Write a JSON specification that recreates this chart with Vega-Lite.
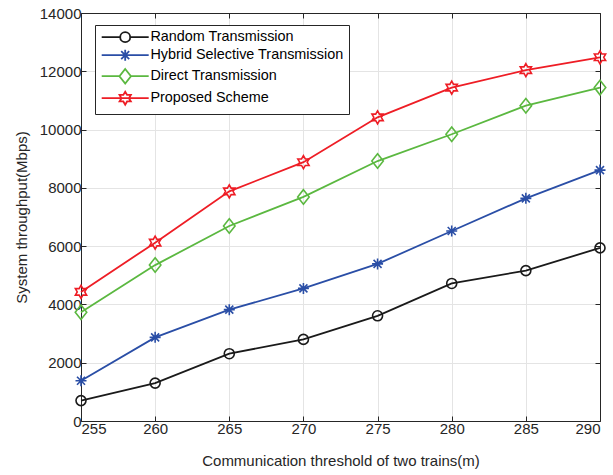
{
  "$schema": "https://vega.github.io/schema/vega-lite/v6.json",
  "width": 519,
  "height": 408,
  "autosize": {"type": "none"},
  "padding": {"left": 81, "top": 13, "right": 13, "bottom": 54},
  "background": "white",
  "data": {
    "values": [
      {"threshold": 255, "scheme": "Random Transmission", "throughput": 700},
      {"threshold": 260, "scheme": "Random Transmission", "throughput": 1300},
      {"threshold": 265, "scheme": "Random Transmission", "throughput": 2310},
      {"threshold": 270, "scheme": "Random Transmission", "throughput": 2800},
      {"threshold": 275, "scheme": "Random Transmission", "throughput": 3610},
      {"threshold": 280, "scheme": "Random Transmission", "throughput": 4720},
      {"threshold": 285, "scheme": "Random Transmission", "throughput": 5160},
      {"threshold": 290, "scheme": "Random Transmission", "throughput": 5940},
      {"threshold": 255, "scheme": "Hybrid Selective Transmission", "throughput": 1380},
      {"threshold": 260, "scheme": "Hybrid Selective Transmission", "throughput": 2870},
      {"threshold": 265, "scheme": "Hybrid Selective Transmission", "throughput": 3820},
      {"threshold": 270, "scheme": "Hybrid Selective Transmission", "throughput": 4550},
      {"threshold": 275, "scheme": "Hybrid Selective Transmission", "throughput": 5390},
      {"threshold": 280, "scheme": "Hybrid Selective Transmission", "throughput": 6520},
      {"threshold": 285, "scheme": "Hybrid Selective Transmission", "throughput": 7640},
      {"threshold": 290, "scheme": "Hybrid Selective Transmission", "throughput": 8610},
      {"threshold": 255, "scheme": "Direct Transmission", "throughput": 3730},
      {"threshold": 260, "scheme": "Direct Transmission", "throughput": 5350},
      {"threshold": 265, "scheme": "Direct Transmission", "throughput": 6690},
      {"threshold": 270, "scheme": "Direct Transmission", "throughput": 7690},
      {"threshold": 275, "scheme": "Direct Transmission", "throughput": 8920},
      {"threshold": 280, "scheme": "Direct Transmission", "throughput": 9840},
      {"threshold": 285, "scheme": "Direct Transmission", "throughput": 10820},
      {"threshold": 290, "scheme": "Direct Transmission", "throughput": 11440},
      {"threshold": 255, "scheme": "Proposed Scheme", "throughput": 4430},
      {"threshold": 260, "scheme": "Proposed Scheme", "throughput": 6120},
      {"threshold": 265, "scheme": "Proposed Scheme", "throughput": 7880},
      {"threshold": 270, "scheme": "Proposed Scheme", "throughput": 8880},
      {"threshold": 275, "scheme": "Proposed Scheme", "throughput": 10420},
      {"threshold": 280, "scheme": "Proposed Scheme", "throughput": 11440},
      {"threshold": 285, "scheme": "Proposed Scheme", "throughput": 12040},
      {"threshold": 290, "scheme": "Proposed Scheme", "throughput": 12480}
    ]
  },
  "layer": [
    {
      "mark": {"type": "line", "strokeWidth": 1.8},
      "encoding": {
        "x": {
          "field": "threshold", "type": "quantitative",
          "scale": {"domain": [255, 290], "nice": false, "zero": false},
          "axis": {"orient": "bottom", "values": [255, 260, 265, 270, 275, 280, 285, 290], "title": "Communication threshold of two trains(m)", "labelPadding": 5, "titlePadding": 17}
        },
        "y": {
          "field": "throughput", "type": "quantitative",
          "scale": {"domain": [0, 14000], "nice": false},
          "axis": {"orient": "left", "values": [0, 2000, 4000, 6000, 8000, 10000, 12000, 14000], "format": "d", "title": "System throughput(Mbps)", "labelPadding": 5, "titlePadding": 10}
        },
        "color": {
          "field": "scheme", "type": "nominal",
          "scale": {
            "domain": ["Random Transmission", "Hybrid Selective Transmission", "Direct Transmission", "Proposed Scheme"],
            "range": ["#1a1a1a", "#2a4ea6", "#5bb840", "#ee1d25"]
          },
          "legend": {"title": null, "orient": "none", "legendX": 14, "legendY": 12, "symbolOffset": 18, "labelOffset": 18, "labelLimit": 0, "symbolSize": 100, "symbolStrokeWidth": 1.8, "labelExpr": "datum.label + '      '"}
        }
      }
    },
    {
      "transform": [{"filter": "datum.scheme === 'Random Transmission'"}],
      "mark": {"type": "point", "filled": false, "size": 100, "strokeWidth": 1.6, "opacity": 1, "shape": "M1,0A1,1 0 1,1 -1,0A1,1 0 1,1 1,0Z"},
      "encoding": {
        "x": {
          "field": "threshold", "type": "quantitative",
          "axis": {"orient": "top", "values": [255, 260, 265, 270, 275, 280, 285, 290], "labels": false, "title": null, "grid": false}
        },
        "y": {
          "field": "throughput", "type": "quantitative",
          "axis": {"orient": "right", "values": [0, 2000, 4000, 6000, 8000, 10000, 12000, 14000], "labels": false, "title": null, "grid": false}
        },
        "color": {
          "field": "scheme", "type": "nominal",
          "legend": {"title": null, "orient": "none", "legendX": 14, "legendY": 12, "symbolOffset": 18, "labelOffset": 18, "labelLimit": 0, "symbolSize": 100, "symbolStrokeWidth": 1.8, "labelExpr": "datum.label + '      '"}
        }
      }
    },
    {
      "transform": [{"filter": "datum.scheme === 'Hybrid Selective Transmission'"}],
      "mark": {"type": "point", "filled": false, "size": 100, "strokeWidth": 1.6, "opacity": 1, "shape": "M-1.1,0H1.1M0,-1.1V1.1M-0.8,-0.8L0.8,0.8M-0.8,0.8L0.8,-0.8"},
      "encoding": {
        "x": {"field": "threshold", "type": "quantitative", "axis": null},
        "y": {"field": "throughput", "type": "quantitative", "axis": null},
        "color": {
          "field": "scheme", "type": "nominal",
          "legend": {"title": null, "orient": "none", "legendX": 14, "legendY": 12, "symbolOffset": 18, "labelOffset": 18, "labelLimit": 0, "symbolSize": 100, "symbolStrokeWidth": 1.8, "labelExpr": "datum.label + '      '"}
        }
      }
    },
    {
      "transform": [{"filter": "datum.scheme === 'Direct Transmission'"}],
      "mark": {"type": "point", "filled": false, "size": 100, "strokeWidth": 1.6, "opacity": 1, "shape": "M0,-1.45L1.15,0L0,1.45L-1.15,0Z"},
      "encoding": {
        "x": {"field": "threshold", "type": "quantitative", "axis": null},
        "y": {"field": "throughput", "type": "quantitative", "axis": null},
        "color": {
          "field": "scheme", "type": "nominal",
          "legend": {"title": null, "orient": "none", "legendX": 14, "legendY": 12, "symbolOffset": 18, "labelOffset": 18, "labelLimit": 0, "symbolSize": 100, "symbolStrokeWidth": 1.8, "labelExpr": "datum.label + '      '"}
        }
      }
    },
    {
      "transform": [{"filter": "datum.scheme === 'Proposed Scheme'"}],
      "mark": {"type": "point", "filled": false, "size": 100, "strokeWidth": 1.6, "opacity": 1, "shape": "M0,-1.3L0.375,-0.65L1.126,-0.65L0.75,0L1.126,0.65L0.375,0.65L0,1.3L-0.375,0.65L-1.126,0.65L-0.75,0L-1.126,-0.65L-0.375,-0.65Z"},
      "encoding": {
        "x": {"field": "threshold", "type": "quantitative", "axis": null},
        "y": {"field": "throughput", "type": "quantitative", "axis": null},
        "color": {
          "field": "scheme", "type": "nominal",
          "legend": {"title": null, "orient": "none", "legendX": 14, "legendY": 12, "symbolOffset": 18, "labelOffset": 18, "labelLimit": 0, "symbolSize": 100, "symbolStrokeWidth": 1.8, "labelExpr": "datum.label + '      '"}
        }
      }
    },
    {
      "description": "legend glyphs: line segment with the series marker",
      "transform": [{"filter": "false"}],
      "mark": {"type": "point", "filled": false, "size": 100, "strokeWidth": 1.8},
      "encoding": {
        "x": {"field": "threshold", "type": "quantitative", "axis": null},
        "y": {"field": "throughput", "type": "quantitative", "axis": null},
        "color": {
          "field": "scheme", "type": "nominal",
          "legend": {"title": null, "orient": "none", "legendX": 14, "legendY": 12, "symbolOffset": 18, "labelOffset": 18, "labelLimit": 0, "symbolSize": 100, "symbolStrokeWidth": 1.8, "labelExpr": "datum.label + '      '"}
        },
        "shape": {
          "field": "scheme", "type": "nominal",
          "scale": {
            "domain": ["Random Transmission", "Hybrid Selective Transmission", "Direct Transmission", "Proposed Scheme"],
            "range": [
              "M-4.7,0H-1M1,0H4.7M1,0A1,1 0 1,1 -1,0A1,1 0 1,1 1,0Z",
              "M-4.7,0H4.7M0,-1.1V1.1M-0.8,-0.8L0.8,0.8M-0.8,0.8L0.8,-0.8",
              "M-4.7,0H-1.15M1.15,0H4.7M0,-1.45L1.15,0L0,1.45L-1.15,0Z",
              "M-4.7,0H4.7M0,-1.3L0.375,-0.65L1.126,-0.65L0.75,0L1.126,0.65L0.375,0.65L0,1.3L-0.375,0.65L-1.126,0.65L-0.75,0L-1.126,-0.65L-0.375,-0.65Z"
            ]
          },
          "legend": {"title": null, "orient": "none", "legendX": 14, "legendY": 12, "symbolOffset": 18, "labelOffset": 18, "labelLimit": 0, "symbolSize": 100, "symbolStrokeWidth": 1.8, "labelExpr": "datum.label + '      '"}
        }
      }
    }
  ],
  "resolve": {"axis": {"x": "independent", "y": "independent"}},
  "config": {
    "view": {"stroke": null},
    "font": "Liberation Sans",
    "axis": {
      "domainColor": "#262626",
      "domainWidth": 1,
      "tickColor": "#262626",
      "tickSize": -5,
      "labelPadding": 5,
      "labelColor": "#262626",
      "labelFont": "Liberation Sans",
      "labelFontSize": 15,
      "titleColor": "#262626",
      "titleFont": "Liberation Sans",
      "titleFontSize": 15,
      "titleFontWeight": "normal",
      "gridColor": "#e4e4e4",
      "gridWidth": 1
    },
    "legend": {
      "strokeColor": "#262626",
      "fillColor": "white",
      "padding": 5,
      "labelFont": "Liberation Sans",
      "labelFontSize": 14.4,
      "labelColor": "#000000",
      "rowPadding": 0
    }
  }
}
